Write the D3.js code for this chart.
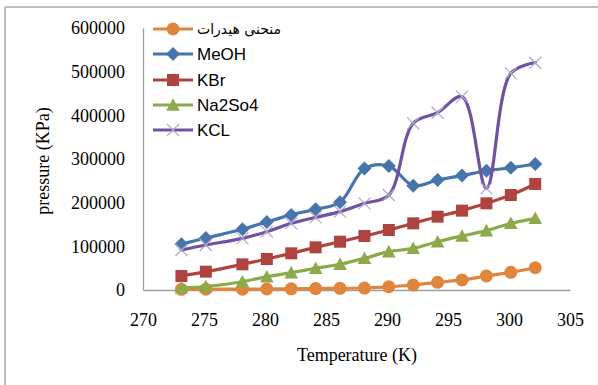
<!DOCTYPE html>
<html><head><meta charset="utf-8">
<script src="https://cdn.jsdelivr.net/npm/d3@7"></script>
<style>body{margin:0;background:#fff;}svg{display:block;}</style>
</head><body>
<svg id="chart" width="598" height="385"></svg>
<script>
const temps = [273.15, 275.15, 278.15, 280.15, 282.15, 284.15, 286.15, 288.15, 290.15, 292.15, 294.15, 296.15, 298.15, 300.15, 302.15];
const hydrate = [1500, 1700, 2000, 2300, 2700, 3200, 3900, 4500, 7500, 11500, 17500, 23000, 32000, 40500, 51000];
const meoh = [105000, 119000, 139000, 156000, 172000, 185000, 201000, 278000, 284000, 239000, 252000, 262000, 273000, 280000, 288500];
const kbr = [32000, 42000, 58800, 71000, 84000, 97700, 110600, 123700, 137400, 152700, 167900, 181700, 198500, 217500, 242700];
const na2so4 = [5000, 8000, 19000, 30500, 39700, 49700, 59000, 72500, 87800, 95400, 110600, 123700, 135900, 152700, 164100];
const kcl = [91600, 103000, 118300, 133600, 152700, 166400, 179400, 198500, 217500, 381700, 406000, 442700, 232900, 496200, 520500];
const seriesNames = ["منحنی هیدرات", "MeOH", "KBr", "Na2So4", "KCL"];
const xTicks = [270, 275, 280, 285, 290, 295, 300, 305];
const yTicks = [0, 100000, 200000, 300000, 400000, 500000, 600000];

const series = [
  {name: seriesNames[0], values: hydrate, color: "#E0853C", marker: "circle"},
  {name: seriesNames[1], values: meoh, color: "#4674AD", marker: "diamond"},
  {name: seriesNames[2], values: kbr, color: "#AE4340", marker: "square"},
  {name: seriesNames[3], values: na2so4, color: "#8DAA4A", marker: "triangle"},
  {name: seriesNames[4], values: kcl, color: "#6F53A0", marker: "x"}
];

const svg = d3.select("#chart");
// outer frame (left/top visible)
svg.append("line").attr("x1",5).attr("x2",598).attr("y1",7).attr("y2",7).attr("stroke","#BDBDBD").attr("stroke-width",2);
svg.append("line").attr("x1",5).attr("x2",5).attr("y1",7).attr("y2",385).attr("stroke","#BDBDBD").attr("stroke-width",2);

const x = d3.scaleLinear().domain([270,305]).range([143,570]);
const y = d3.scaleLinear().domain([0,600000]).range([290,28]);

const serif = "'Liberation Serif','Times New Roman',serif";

// axes
const yAxis = d3.axisLeft(y).tickValues(yTicks).tickSize(0).tickPadding(18).tickFormat(d3.format("d"));
const gy = svg.append("g").attr("transform","translate(143,0)").call(yAxis);
gy.select(".domain").attr("stroke","#9E9E9E").attr("stroke-width",1.3);
gy.selectAll("text").attr("font-family",serif).attr("font-size",18).attr("fill","#000");

const xAxis = d3.axisBottom(x).tickValues(xTicks).tickSize(0).tickPadding(23);
const gx = svg.append("g").attr("transform","translate(0,290)").call(xAxis);
gx.select(".domain").attr("stroke","#9E9E9E").attr("stroke-width",1.3);
gx.selectAll("text").attr("font-family",serif).attr("font-size",18).attr("fill","#000");

svg.append("text").attr("x",357).attr("y",361).attr("text-anchor","middle")
  .attr("font-family",serif).attr("font-size",18).text("Temperature (K)");
svg.append("text").attr("transform","translate(49,161) rotate(-90)").attr("text-anchor","middle")
  .attr("font-family",serif).attr("font-size",18).text("pressure (KPa)");

function drawMarker(g, type, cx, cy, color) {
  if (type === "circle") {
    g.append("circle").attr("cx",cx).attr("cy",cy).attr("r",6.5).attr("fill",color);
  } else if (type === "diamond") {
    const s = 7;
    g.append("path").attr("d",`M${cx},${cy-s}L${cx+s},${cy}L${cx},${cy+s}L${cx-s},${cy}Z`).attr("fill",color);
  } else if (type === "square") {
    g.append("rect").attr("x",cx-6).attr("y",cy-6).attr("width",12).attr("height",12).attr("fill",color);
  } else if (type === "triangle") {
    const s = 6.8;
    g.append("path").attr("d",`M${cx},${cy-s}L${cx+s},${cy+s*0.85}L${cx-s},${cy+s*0.85}Z`).attr("fill",color);
  } else if (type === "x") {
    const s = 6;
    g.append("path").attr("d",`M${cx-s},${cy-s}L${cx+s},${cy+s}M${cx-s},${cy+s}L${cx+s},${cy-s}`)
      .attr("stroke","#B3A6CC").attr("stroke-width",1.2).attr("fill","none");
  }
}

const line = d3.line().x((d,i)=>x(temps[i])).y(d=>y(d)).curve(d3.curveCatmullRom.alpha(0.5));

series.forEach(s => {
  const g = svg.append("g");
  g.append("path").attr("d",line(s.values)).attr("fill","none").attr("stroke",s.color)
    .attr("stroke-width",3.2).attr("stroke-linejoin","round").attr("stroke-linecap","round");
  s.values.forEach((v,i)=>drawMarker(g, s.marker, x(temps[i]), y(v), s.color));
});

// legend
const legend = svg.append("g");
const rowY = [29, 54, 80, 105, 130];
series.forEach((s,i) => {
  const gy2 = rowY[i];
  const lg = legend.append("g");
  lg.append("line").attr("x1",153).attr("x2",193).attr("y1",gy2).attr("y2",gy2)
    .attr("stroke",s.color).attr("stroke-width",3.2);
  drawMarker(lg, s.marker, 173, gy2, s.color);
  const t = lg.append("text").attr("x",197).attr("y",gy2).attr("dominant-baseline","central")
    .attr("font-size",17).attr("fill","#000").text(s.name);
  if (i === 0) {
    t.attr("font-family","'DejaVu Sans',sans-serif").attr("font-size",14).attr("direction","ltr").attr("text-anchor","start");
  } else {
    t.attr("font-family","'Liberation Sans',Arial,sans-serif");
  }
});
</script>
</body></html>
